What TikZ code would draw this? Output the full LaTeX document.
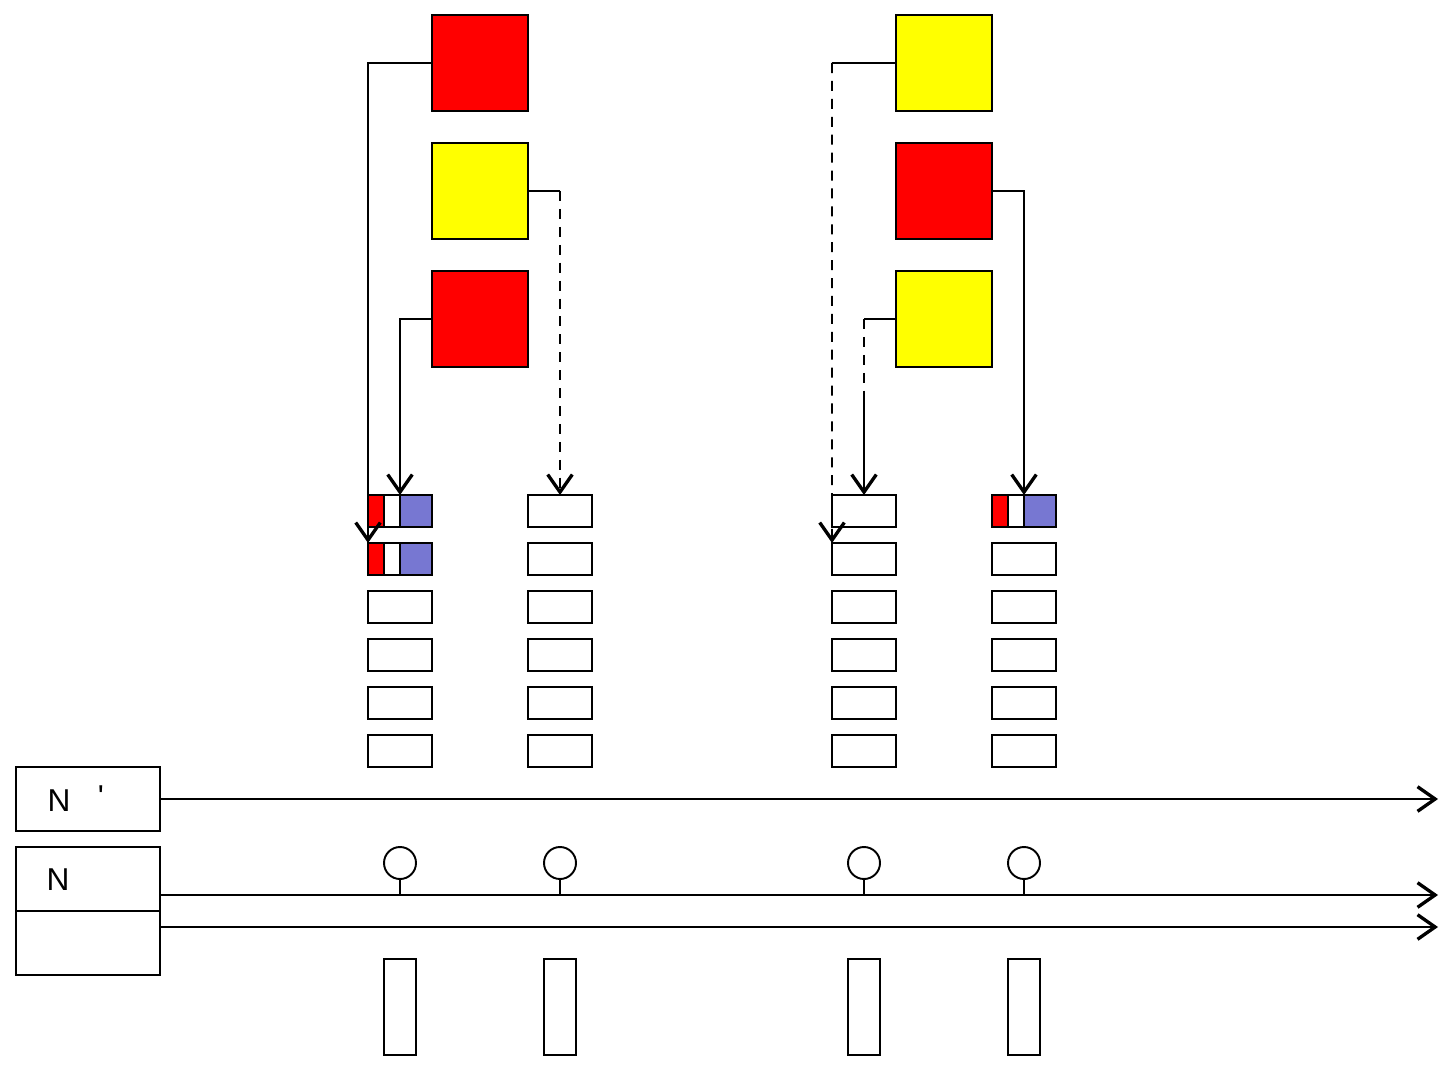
\documentclass[tikz,border=0pt]{standalone}
\usepackage{fontspec}
\setmainfont{Liberation Sans}
\usetikzlibrary{arrows.meta}
\definecolor{cellblue}{RGB}{119,119,210}
\definecolor{sqyellow}{RGB}{255,255,0}
\definecolor{sqred}{RGB}{255,0,0}
\begin{document}
\begin{tikzpicture}[x=0.02cm,y=-0.02cm,
  line width=1.1pt,
  sq/.style={draw,line width=1.1pt,minimum width=1.92cm,minimum height=1.92cm,inner sep=0pt,outer sep=0pt},
  cell/.style={draw,line width=1.1pt,minimum width=1.28cm,minimum height=0.64cm,inner sep=0pt,outer sep=0pt},
  lbox/.style={draw,line width=1.1pt,minimum width=2.88cm,minimum height=1.28cm,inner sep=0pt,outer sep=0pt},
  bar/.style={draw,line width=1.1pt,minimum width=0.64cm,minimum height=1.92cm,inner sep=0pt,outer sep=0pt},
  pin/.style={draw,circle,line width=1.1pt,minimum size=0.64cm,inner sep=0pt,outer sep=0pt},
  tip/.style={-{Straight Barb[length=10pt,width=14pt,line width=1.9pt]}},
  dsh/.style={dash pattern=on 5.7pt off 4.5pt},
  lbl/.style={font=\fontsize{18}{20}\selectfont,inner sep=0pt,anchor=center}]
\useasboundingbox (0,0) rectangle (1449,1067);
% squares
\node[sq,fill=sqred]    (r1) at (480,63) {};
\node[sq,fill=sqyellow] (y1) at (480,191) {};
\node[sq,fill=sqred]    (r2) at (480,319) {};
\node[sq,fill=sqyellow] (Y1) at (944,63) {};
\node[sq,fill=sqred]    (R1) at (944,191) {};
\node[sq,fill=sqyellow] (Y2) at (944,319) {};
% stacks
\foreach \c/\x in {1/400,2/560,3/864,4/1024}{
  \foreach \r/\y in {1/511,2/559,3/607,4/655,5/703,6/751}{
    \node[cell] (c\c\r) at (\x,\y) {};
  }
}
% filled cells
\foreach \n in {c11,c12,c41}{
  \fill[sqred] (\n.north west) rectangle ++(16,32);
  \fill[cellblue] ([xshift=0.64cm]\n.north west) rectangle ++(32,32);
  \draw ([xshift=0.32cm]\n.north west) -- ++(0,32);
  \draw ([xshift=0.64cm]\n.north west) -- ++(0,32);
  \draw (\n.north west) rectangle (\n.south east);
}
% connectors
\draw[tip] (r1.west) -| (c12.north west);
\coordinate (ka) at (560,191);
\draw (y1.east) -- (ka);
\draw[tip,dsh] (ka) -- (c21.north);
\draw[tip] (r2.west) -| (c11.north);
\coordinate (kb) at (832,63);
\draw (Y1.west) -- (kb);
\draw[tip,dsh] (kb) -- (c32.north west);
\draw[tip] (R1.east) -| (c41.north);
\coordinate (kc) at (864,319);
\coordinate (k) at (864,393);
\draw (Y2.west) -- (kc);
\draw[dsh] (kc) -- (k);
\draw[tip] (k) -- (c31.north);
% bottom boxes
\node[lbox] (np) at (88,799) {};
\node[lbox] (n1) at (88,879) {};
\node[lbox] (n2) at (88,943) {};
\node[lbl] at (59,801) {N};
\node[lbl] at (101,797) {\textquotesingle};
\node[lbl] at (58,880) {N};
\coordinate (e1) at (1438,799);
\coordinate (e2) at (1438,895);
\coordinate (e3) at (1438,927);
\draw[tip] (np.east) -- (e1);
\draw[tip] (n1.east |- e2) -- (e2);
\draw[tip] (n2.east |- e3) -- (e3);
% pins and bars
\foreach \i/\x in {1/400,2/560,3/864,4/1024}{
  \node[pin] (p\i) at (\x,863) {};
  \coordinate (q\i) at (\x,895);
  \draw (p\i.south) -- (q\i);
  \node[bar] (b\i) at (\x,1007) {};
}
\end{tikzpicture}
\end{document}
